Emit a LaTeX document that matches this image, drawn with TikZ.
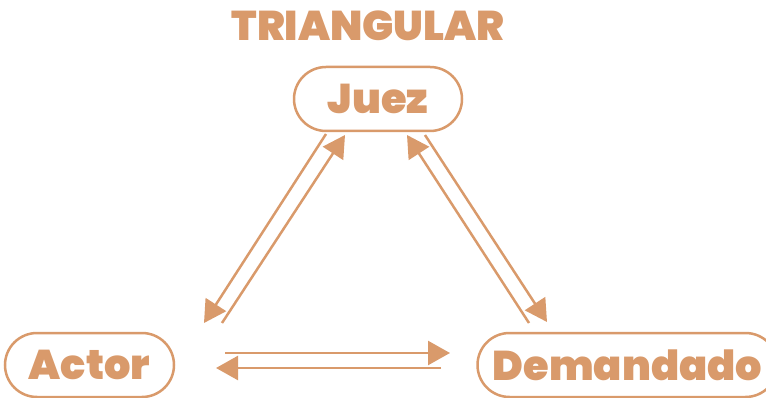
\documentclass[tikz,border=0pt]{standalone}
\usepackage{fontspec}
\newfontfamily\heavy{Poppins Black}
\usetikzlibrary{arrows.meta}

\definecolor{tan}{HTML}{D99A6B}

\tikzset{
  party/.style={draw=tan, line width=2.5pt, rounded corners=32pt, minimum height=64pt,
    text=tan, font=\heavy\fontsize{41.5}{41.5}\selectfont, inner sep=0pt},
  link/.style={draw=tan, line width=2.5pt, -{Triangle[length=22pt, width=24pt]}}
}

\begin{document}
\begin{tikzpicture}[x=1pt, y=-1pt]

\useasboundingbox (0,0) rectangle (766,398);

\node[text=tan, font=\heavy\fontsize{41.5}{41.5}\selectfont] (title) at (368,26) {TRIANGULAR};

\node[party, minimum width=168pt] (juez) at (378,99) {Juez};
\node[party, minimum width=169pt] (actor) at (89.5,365) {Actor};
\node[party, minimum width=300pt] (dem) at (627.5,365) {Demandado};

% left side
\coordinate (JAa) at (326,134);
\coordinate (JAb) at (204,323);
\coordinate (AJa) at (222,323);
\coordinate (AJb) at (345,135);

% right side
\coordinate (DJa) at (529,323);
\coordinate (DJb) at (407,135);
\coordinate (JDa) at (425,135);
\coordinate (JDb) at (547,322);

% bottom
\coordinate (ADa) at (225,353);
\coordinate (ADb) at (450,353);
\coordinate (DAa) at (441,368);
\coordinate (DAb) at (216,368);

\draw[link] (JAa) -- (JAb);
\draw[link] (AJa) -- (AJb);
\draw[link] (DJa) -- (DJb);
\draw[link] (JDa) -- (JDb);
\draw[link] (ADa) -- (ADb);
\draw[link] (DAa) -- (DAb);

\end{tikzpicture}
\end{document}
